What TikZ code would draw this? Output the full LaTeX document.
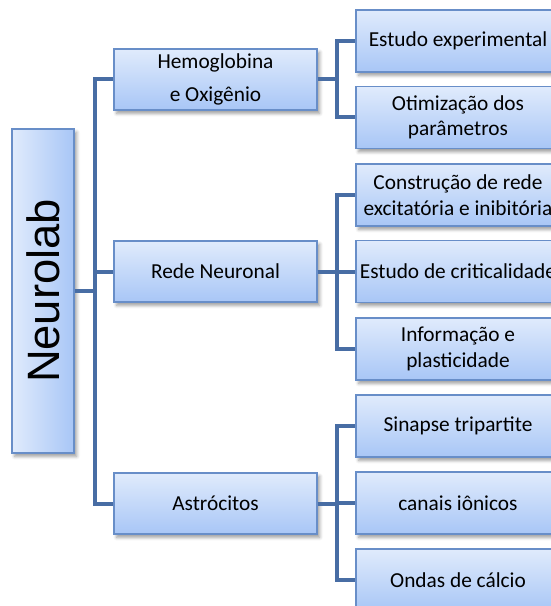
\documentclass[tikz,border=0pt]{standalone}
\usepackage{fontspec}
\setmainfont{Carlito}
\newfontfamily\arialf{Liberation Sans}
\usetikzlibrary{shadows.blur}
\definecolor{boxtop}{RGB}{224,235,252}
\definecolor{boxbot}{RGB}{168,198,246}
\definecolor{boxedge}{RGB}{104,142,200}
\definecolor{linkc}{RGB}{72,109,164}
\tikzset{
  box/.style={draw=boxedge, line width=1.2pt, top color=boxtop, bottom color=boxbot,
    blur shadow={shadow xshift=2pt, shadow yshift=-2.5pt, shadow blur radius=2.5pt, shadow opacity=40},
    inner sep=0pt, align=center, font=\fontsize{16}{19.2}\selectfont},
  lone/.style={box, minimum width=152.25pt, minimum height=45.75pt},
  ltwo/.style={box, minimum width=153pt, minimum height=46.5pt},
  linkline/.style={draw=linkc, line width=3pt}
}
\begin{document}
\begin{tikzpicture}[x=0.75pt,y=-0.75pt]
\useasboundingbox (0,0) rectangle (550,606);
\node[box, left color=boxtop, right color=boxbot, minimum width=46.5pt, minimum height=243pt] (N) at (43,291)
  {\rotatebox{90}{\arialf\fontsize{34}{40}\selectfont Neurolab}};
\node[lone] (H) at (215.5,79.5) {Hemoglobina\\[5.5pt]e Oxigênio};
\node[lone] (R) at (215.5,271.5) {Rede Neuronal};
\node[lone] (A) at (215.5,503.5) {Astrócitos};
\node[ltwo] (H1) at (458,41) {Estudo experimental};
\node[ltwo] (H2) at (458,117.5) {Otimização dos\\parâmetros};
\node[ltwo] (R1) at (458,195) {Construção de rede\\excitatória e inibitória};
\node[ltwo] (R2) at (458,271.5) {Estudo de criticalidade};
\node[ltwo] (R3) at (458,349) {Informação e\\plasticidade};
\node[ltwo] (A1) at (458,426) {Sinapse tripartite};
\node[ltwo] (A2) at (458,503) {canais iônicos};
\node[ltwo] (A3) at (458,580) {Ondas de cálcio};
\foreach \c in {H,R,A} \draw[linkline] (N.east) -- ++(20,0) |- (\c.west);
\foreach \c in {H1,H2} \draw[linkline] (H.east) -- ++(19,0) |- (\c.west);
\foreach \c in {R1,R2,R3} \draw[linkline] (R.east) -- ++(19,0) |- (\c.west);
\foreach \c in {A1,A2,A3} \draw[linkline] (A.east) -- ++(19,0) |- (\c.west);
\end{tikzpicture}
\end{document}
